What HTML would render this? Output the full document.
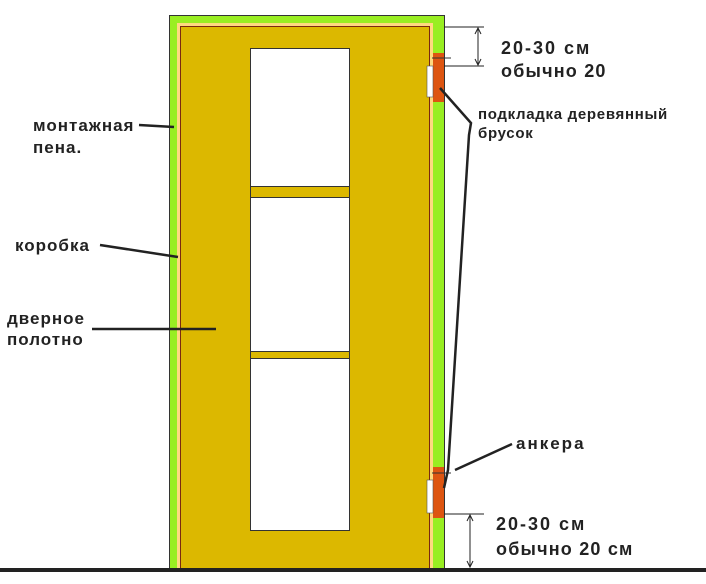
<!DOCTYPE html>
<html><head><meta charset="utf-8"><style>
body{margin:0;background:#fff;width:706px;height:579px;overflow:hidden}
svg text{font-family:"Liberation Sans",sans-serif;font-weight:bold;fill:#222}
</style></head><body>
<svg width="706" height="579" viewBox="0 0 706 579">
<rect x="169.5" y="15.5" width="275" height="556" fill="#99ee22" stroke="#333" stroke-width="1"/>
<rect x="177" y="23" width="256" height="548" fill="#ffd980"/>
<rect x="180.5" y="26.5" width="249" height="545" fill="#dcb800" stroke="#7a2a10" stroke-width="1"/>
<rect x="250.5" y="48.5" width="99" height="482" fill="#fff" stroke="#333" stroke-width="1"/>
<rect x="250.5" y="186.5" width="99" height="11" fill="#dcb800" stroke="#333" stroke-width="1"/>
<rect x="250.5" y="351.5" width="99" height="7" fill="#dcb800" stroke="#333" stroke-width="1"/>
<rect x="433" y="53" width="11" height="49" fill="#dd5511"/>
<rect x="427" y="66" width="6" height="31" fill="#fff" stroke="#555" stroke-width="0.6"/>
<rect x="433" y="467" width="11" height="51" fill="#dd5511"/>
<rect x="427" y="480" width="6" height="33" fill="#fff" stroke="#555" stroke-width="0.6"/>
<line x1="432" y1="58" x2="451" y2="58" stroke="#333" stroke-width="1"/>
<line x1="432" y1="473" x2="451" y2="473" stroke="#333" stroke-width="1"/>
<rect x="0" y="568" width="706" height="4" fill="#222"/>
<g stroke="#222" stroke-width="1" fill="none">
<line x1="444" y1="27" x2="484" y2="27"/>
<line x1="444" y1="66" x2="484" y2="66"/>
<line x1="478" y1="28" x2="478" y2="65"/>
<polyline points="475,34 478,28 481,34"/>
<polyline points="475,59 478,65 481,59"/>
<line x1="444" y1="514" x2="484" y2="514"/>
<line x1="470" y1="515" x2="470" y2="567"/>
<polyline points="467,521 470,515 473,521"/>
<polyline points="467,561 470,567 473,561"/>
</g>
<g stroke="#222" stroke-width="2.5" fill="none">
<line x1="139" y1="125" x2="174" y2="127"/>
<line x1="100" y1="245" x2="178" y2="257"/>
<line x1="92" y1="329" x2="216" y2="329"/>
<polyline points="440,88 471,123 469,135 448,470 444,488"/>
<line x1="455" y1="470" x2="512" y2="444"/>
</g>
<g font-size="17" letter-spacing="1">
<text x="33" y="131">монтажная</text>
<text x="33" y="153">пена.</text>
<text x="15" y="251">коробка</text>
<text x="7" y="324">дверное</text>
<text x="7" y="345">полотно</text>
<text x="516" y="449" letter-spacing="2">анкера</text>
</g>
<g font-size="18" letter-spacing="1.2">
<text x="501" y="54" letter-spacing="2">20-30 см</text>
<text x="501" y="77">обычно 20</text>
<text x="496" y="530" letter-spacing="2">20-30 см</text>
<text x="496" y="555">обычно 20 см</text>
</g>
<text x="478" y="119" font-size="15" letter-spacing="0.7">подкладка деревянный</text>
<text x="478" y="138" font-size="15" letter-spacing="0.7">брусок</text>
</svg>
</body></html>
